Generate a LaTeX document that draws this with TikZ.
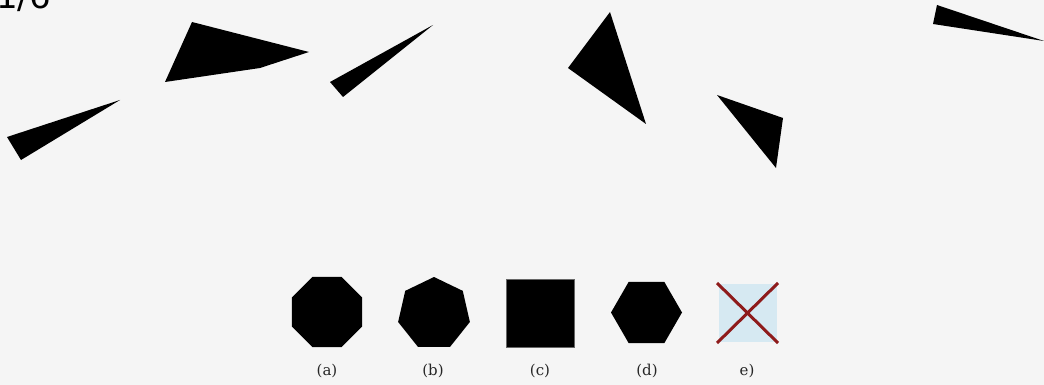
\documentclass[tikz,border=0pt]{standalone}
\usepackage{fontspec}
\newfontfamily\labelsans{DejaVu Sans}
\newfontfamily\capserif{DejaVu Serif}
\definecolor{bg}{HTML}{F5F5F5}
\definecolor{xred}{HTML}{8E1B1B}
\definecolor{lblue}{HTML}{D6E9F2}
\begin{document}
\begin{tikzpicture}[x=1pt,y=-1pt,
  shard/.style={fill=black},
  poly/.style={fill=black},
  caption/.style={font=\capserif\fontsize{15}{17}\selectfont, inner sep=0pt, text=black!85}]
\fill[bg] (0,0) rectangle (1044,385);
\useasboundingbox (0,0) rectangle (1044,385);
% cut-off counter
\node[anchor=base west, inner sep=0pt, font=\labelsans\fontsize{34}{36}\selectfont] (counter) at (-4,9) {1/6};
% scattered shards
\fill[shard] (7,137) -- (120,100) -- (21,160) -- cycle;
\fill[shard] (192,22) -- (309,52) -- (260,68) -- (165,82) -- cycle;
\fill[shard] (330,82) -- (433,25) -- (343,97) -- cycle;
\fill[shard] (610,12) -- (568,68) -- (646,124) -- cycle;
\fill[shard] (717,95) -- (783,118) -- (776,168) -- cycle;
\fill[shard] (937,5) -- (1044,41) -- (933,24) -- cycle;
% answer options
\begin{scope}[shift={(327,312)}]
  \fill[poly] (22.5:37.9pt) \foreach \k in {1,...,7}{ -- ({22.5+45*\k}:37.9pt)} -- cycle;
\end{scope}
\begin{scope}[shift={(434,313.8)}]
  \fill[poly] (90:36.8pt) \foreach \k in {1,...,6}{ -- ({90+360*\k/7}:36.8pt)} -- cycle;
\end{scope}
\fill[poly, draw=black!60, line width=0.6pt] (506,279) rectangle (574,347);
\begin{scope}[shift={(646.5,312.5)}]
  \fill[poly] (0:35.5pt) \foreach \k in {1,...,5}{ -- ({60*\k}:35.5pt)} -- cycle;
\end{scope}
\fill[lblue] (719,284) rectangle (777,342);
\coordinate (x1) at (717,283);
\coordinate (x2) at (778,343);
\coordinate (x3) at (778,283);
\coordinate (x4) at (717,343);
\draw[xred, line width=3pt] (x1) -- (x2);
\draw[xred, line width=3pt] (x3) -- (x4);
% captions
\node[caption] (la) at (327,371) {(a)};
\node[caption] (lb) at (433,371) {(b)};
\node[caption] (lc) at (540,371) {(c)};
\node[caption] (ld) at (647,371) {(d)};
\node[caption] (le) at (747,371) {e)};
\end{tikzpicture}
\end{document}
